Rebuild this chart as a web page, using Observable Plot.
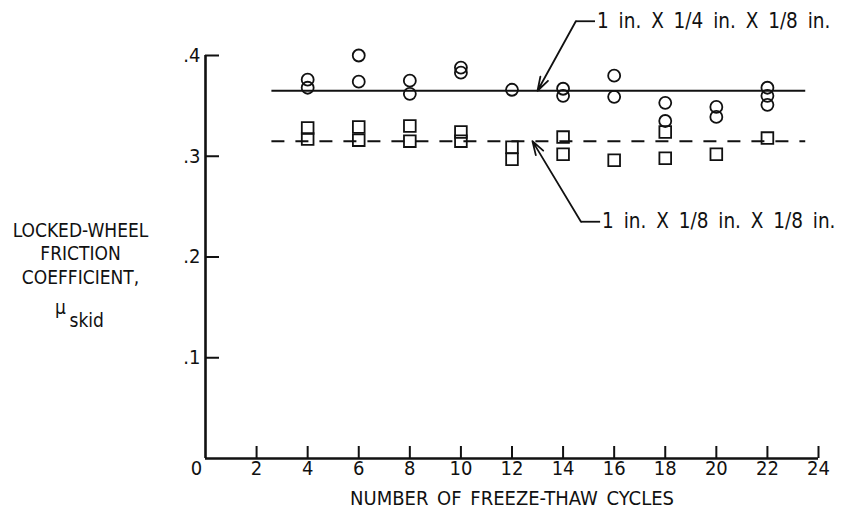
<!DOCTYPE html>
<html>
<head>
<meta charset="utf-8">
<script src="https://cdn.jsdelivr.net/npm/d3@7"></script>
<script src="https://cdn.jsdelivr.net/npm/@observablehq/plot@0.6"></script>
<style>
  body { margin: 0; background: #fff; }
  #chart svg { display: block; }
  #chart g[aria-description="callout label"] text { word-spacing: 4px; }
  #chart g[aria-description="x title"] text { word-spacing: 3px; }
</style>
</head>
<body>
<div id="chart"></div>
<script>
// Locked-wheel skid friction after repeated freeze-thaw cycles, two groove sizes.
const circleCycles = [4, 4, 6, 6, 8, 8, 10, 10, 12, 14, 14, 16, 16, 18, 18, 20, 20, 22, 22, 22];
const circleMu     = [0.376, 0.368, 0.400, 0.374, 0.375, 0.362, 0.388, 0.383, 0.366, 0.367, 0.360,
                      0.380, 0.359, 0.353, 0.335, 0.349, 0.339, 0.368, 0.360, 0.351];
const squareCycles = [4, 4, 6, 6, 8, 8, 10, 10, 12, 12, 14, 14, 16, 18, 18, 20, 22];
const squareMu     = [0.328, 0.317, 0.329, 0.316, 0.330, 0.315, 0.324, 0.315, 0.309, 0.297,
                      0.319, 0.302, 0.296, 0.324, 0.298, 0.302, 0.318];

// Faired mean levels and the cycle range they are drawn over
const fairedMu = [0.365, 0.315];
const fairedSpan = [2.6, 23.5];

const seriesNames = ["1 in. X 1/4 in. X 1/8 in.", "1 in. X 1/8 in. X 1/8 in."];
const xTicks = [0, 2, 4, 6, 8, 10, 12, 14, 16, 18, 20, 22, 24];
const yTicks = [0.1, 0.2, 0.3, 0.4];
const xTitle = "NUMBER OF FREEZE-THAW CYCLES";
const yTitle = ["LOCKED-WHEEL", "FRICTION", "COEFFICIENT,"];

// Callout leaders: label start, elbow, and the point on the faired line they touch
const callouts = [
  {name: seriesNames[0], elbowX: 14.5, tipX: 13.0, labelY: 0.434, tipY: fairedMu[0]},
  {name: seriesNames[1], elbowX: 14.7, tipX: 12.8, labelY: 0.235, tipY: fairedMu[1]}
];

const circles = circleCycles.map((c, i) => ({cycles: c, mu: circleMu[i]}));
const squares = squareCycles.map((c, i) => ({cycles: c, mu: squareMu[i]}));

const ink = "#111";
const font = "'Liberation Sans Narrow', 'DejaVu Sans Condensed', 'Liberation Sans', sans-serif";
const fmtY = d => d3.format(".1f")(d).replace(/^0/, "");

const chart = Plot.plot({
  width: 845,
  height: 523,
  marginLeft: 205,
  marginRight: 27,
  marginTop: 55,
  marginBottom: 65,
  x: {domain: [0, 24]},
  y: {domain: [0, 0.4]},
  style: {fontFamily: font, fontSize: "20px", color: ink, background: "#fff", overflow: "visible"},
  marks: [
    // frame lines
    Plot.ruleX([0], {stroke: ink, strokeWidth: 2.6}),
    Plot.ruleY([0], {stroke: ink, strokeWidth: 2.6}),
    // inward-pointing ticks
    Plot.axisY(yTicks, {tickSize: 14, dx: 14, tickFormat: () => "", strokeWidth: 2, label: null}),
    Plot.axisX(xTicks.filter(d => d > 0), {tickSize: 12, dy: -12, tickFormat: () => "", strokeWidth: 2, label: null}),
    // tick labels
    Plot.axisY(yTicks, {tickSize: 0, tickPadding: 5, tickFormat: fmtY, fontSize: 20, label: null}),
    Plot.axisX(xTicks.filter(d => d > 0), {tickSize: 0, tickPadding: 2, fontSize: 20, label: null}),
    Plot.text(xTicks.filter(d => d === 0), {x: d => d, frameAnchor: "bottom", lineAnchor: "top", dy: 2, dx: -9, fontSize: 20, fill: ink}),
    // axis titles
    Plot.text([xTitle], {frameAnchor: "bottom", dy: 46, fontSize: 20, fill: ink, ariaDescription: "x title"}),
    Plot.text([yTitle.join("\n")], {frameAnchor: "left", textAnchor: "middle", dx: -125, dy: -4, lineHeight: 1.22, fontSize: 19, fill: ink}),
    Plot.text(["\u03bc"], {frameAnchor: "left", textAnchor: "middle", dx: -145, dy: 51, fontSize: 19, fill: ink}),
    Plot.text(["skid"], {frameAnchor: "left", textAnchor: "start", dx: -136, dy: 64, fontSize: 19, fill: ink}),
    // faired lines
    Plot.ruleY([fairedMu[0]], {x1: fairedSpan[0], x2: fairedSpan[1], stroke: ink, strokeWidth: 2}),
    Plot.ruleY([fairedMu[1]], {x1: fairedSpan[0], x2: fairedSpan[1], stroke: ink, strokeWidth: 2, strokeDasharray: "13,11"}),
    // measurements
    Plot.dot(circles, {x: "cycles", y: "mu", r: 6, stroke: ink, strokeWidth: 1.8, fill: "none"}),
    Plot.dot(squares, {x: "cycles", y: "mu", symbol: "square", r: 6.6, stroke: ink, strokeWidth: 1.8, fill: "none"}),
    // callouts
    Plot.link(callouts, {x1: "elbowX", y1: "labelY", x2: d => d.elbowX + 0.75, y2: "labelY", stroke: ink, strokeWidth: 1.8}),
    Plot.arrow(callouts, {x1: "elbowX", y1: "labelY", x2: "tipX", y2: "tipY", stroke: ink, strokeWidth: 1.8, headLength: 12, headAngle: 35}),
    Plot.text(callouts, {x: d => d.elbowX + 0.75, y: "labelY", text: "name", textAnchor: "start", dx: 2, fontSize: 20.5, fill: ink, ariaDescription: "callout label"})
  ]
});

document.getElementById("chart").appendChild(chart);
</script>
</body>
</html>
